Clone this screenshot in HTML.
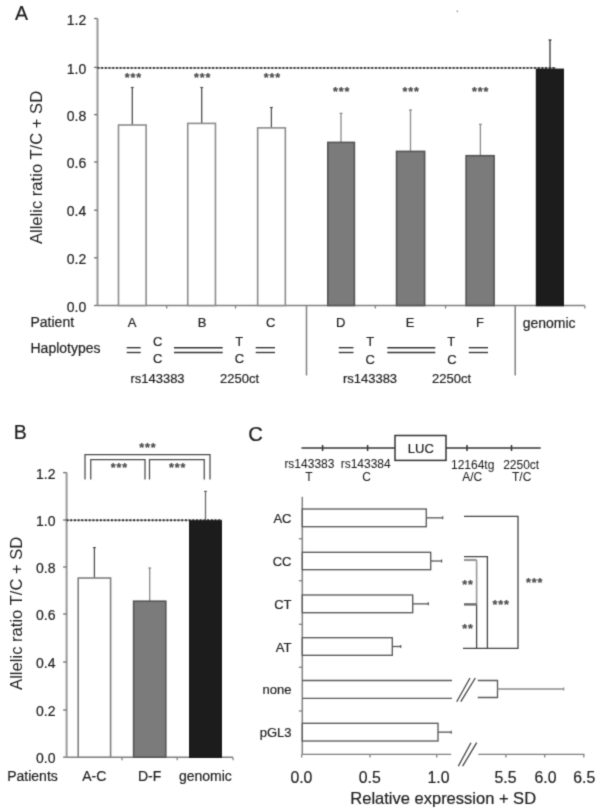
<!DOCTYPE html>
<html><head><meta charset="utf-8"><style>
html,body{margin:0;padding:0;background:#fff;}
body{width:600px;height:810px;overflow:hidden;}
svg{display:block;font-family:"Liberation Sans",sans-serif;}
</style></head><body>
<svg width="600" height="810" viewBox="0 0 600 810">
<g>
<rect width="600" height="810" fill="#fff"/>
<text x="15" y="19.6" font-size="19.5" text-anchor="start" fill="#1e1e1e" stroke="#1e1e1e" stroke-width="0.2" >A</text>
<line x1="97.5" y1="18.5" x2="97.5" y2="305.5" stroke="#9a9a9a" stroke-width="2.0" />
<line x1="94.0" y1="305.5" x2="97.5" y2="305.5" stroke="#707070" stroke-width="1.3" />
<text x="86.3" y="311.6" font-size="14" text-anchor="end" fill="#1e1e1e" stroke="#1e1e1e" stroke-width="0.2" >0.0</text>
<line x1="94.0" y1="257.8" x2="97.5" y2="257.8" stroke="#707070" stroke-width="1.3" />
<text x="86.3" y="263.90000000000003" font-size="14" text-anchor="end" fill="#1e1e1e" stroke="#1e1e1e" stroke-width="0.2" >0.2</text>
<line x1="94.0" y1="210.2" x2="97.5" y2="210.2" stroke="#707070" stroke-width="1.3" />
<text x="86.3" y="216.29999999999998" font-size="14" text-anchor="end" fill="#1e1e1e" stroke="#1e1e1e" stroke-width="0.2" >0.4</text>
<line x1="94.0" y1="162.0" x2="97.5" y2="162.0" stroke="#707070" stroke-width="1.3" />
<text x="86.3" y="168.1" font-size="14" text-anchor="end" fill="#1e1e1e" stroke="#1e1e1e" stroke-width="0.2" >0.6</text>
<line x1="94.0" y1="114.6" x2="97.5" y2="114.6" stroke="#707070" stroke-width="1.3" />
<text x="86.3" y="120.69999999999999" font-size="14" text-anchor="end" fill="#1e1e1e" stroke="#1e1e1e" stroke-width="0.2" >0.8</text>
<line x1="94.0" y1="67.4" x2="97.5" y2="67.4" stroke="#707070" stroke-width="1.3" />
<text x="86.3" y="73.5" font-size="14" text-anchor="end" fill="#1e1e1e" stroke="#1e1e1e" stroke-width="0.2" >1.0</text>
<line x1="94.0" y1="18.5" x2="97.5" y2="18.5" stroke="#707070" stroke-width="1.3" />
<text x="86.3" y="24.6" font-size="14" text-anchor="end" fill="#1e1e1e" stroke="#1e1e1e" stroke-width="0.2" >1.2</text>
<text x="0" y="0" font-size="16.6" text-anchor="middle" fill="#1e1e1e" transform="translate(42.3,167.5) rotate(-90)">Allelic ratio T/C + SD</text>
<line x1="97.5" y1="305.5" x2="584.8" y2="305.5" stroke="#808080" stroke-width="1.5" />
<line x1="166.7" y1="305.5" x2="166.7" y2="308.5" stroke="#808080" stroke-width="1.3" />
<line x1="235.5" y1="305.5" x2="235.5" y2="308.5" stroke="#808080" stroke-width="1.3" />
<line x1="306.5" y1="305.5" x2="306.5" y2="375.5" stroke="#808080" stroke-width="1.5" />
<line x1="375.3" y1="305.5" x2="375.3" y2="308.5" stroke="#808080" stroke-width="1.3" />
<line x1="445.5" y1="305.5" x2="445.5" y2="308.5" stroke="#808080" stroke-width="1.3" />
<line x1="515.2" y1="305.5" x2="515.2" y2="375.5" stroke="#808080" stroke-width="1.5" />
<line x1="584.8" y1="305.5" x2="584.8" y2="308.5" stroke="#808080" stroke-width="1.3" />
<line x1="97.5" y1="67.9" x2="556" y2="67.9" stroke="#aaa" stroke-width="1.5" />
<line x1="97.5" y1="67.9" x2="556" y2="67.9" stroke="#2a2a2a" stroke-width="1.9" stroke-dasharray="1.8 1.9"/>
<line x1="132.3" y1="87.5" x2="132.3" y2="125.0" stroke="#505050" stroke-width="1.3" />
<line x1="130.8" y1="87.5" x2="133.8" y2="87.5" stroke="#505050" stroke-width="1.2" />
<line x1="201.7" y1="87.5" x2="201.7" y2="123.4" stroke="#505050" stroke-width="1.3" />
<line x1="200.2" y1="87.5" x2="203.2" y2="87.5" stroke="#505050" stroke-width="1.2" />
<line x1="271.4" y1="107.5" x2="271.4" y2="127.9" stroke="#505050" stroke-width="1.3" />
<line x1="269.9" y1="107.5" x2="272.9" y2="107.5" stroke="#505050" stroke-width="1.2" />
<line x1="341.0" y1="113.3" x2="341.0" y2="142.4" stroke="#8a8a8a" stroke-width="1.3" />
<line x1="339.5" y1="113.3" x2="342.5" y2="113.3" stroke="#8a8a8a" stroke-width="1.2" />
<line x1="410.5" y1="110.0" x2="410.5" y2="151.4" stroke="#8a8a8a" stroke-width="1.3" />
<line x1="409.0" y1="110.0" x2="412.0" y2="110.0" stroke="#8a8a8a" stroke-width="1.2" />
<line x1="480.4" y1="124.3" x2="480.4" y2="155.7" stroke="#8a8a8a" stroke-width="1.3" />
<line x1="478.9" y1="124.3" x2="481.9" y2="124.3" stroke="#8a8a8a" stroke-width="1.2" />
<line x1="550.0" y1="40.0" x2="550.0" y2="69.4" stroke="#333" stroke-width="1.3" />
<line x1="548.5" y1="40.0" x2="551.5" y2="40.0" stroke="#333" stroke-width="1.2" />
<rect x="118.50000000000001" y="125.0" width="27.60000000000001" height="180.5" fill="#fff" stroke="#8c8c8c" stroke-width="1.6"/>
<rect x="187.75" y="123.4" width="27.69999999999999" height="182.1" fill="#fff" stroke="#8c8c8c" stroke-width="1.6"/>
<rect x="257.65" y="127.9" width="27.700000000000045" height="177.6" fill="#fff" stroke="#8c8c8c" stroke-width="1.6"/>
<rect x="327.8" y="142.4" width="26.600000000000023" height="163.1" fill="#7b7b7b" stroke="#555" stroke-width="1.6"/>
<rect x="396.55" y="151.4" width="28.100000000000023" height="154.1" fill="#7b7b7b" stroke="#555" stroke-width="1.6"/>
<rect x="466.1" y="155.7" width="28.0" height="149.8" fill="#7b7b7b" stroke="#555" stroke-width="1.6"/>
<rect x="536.6" y="69.4" width="26.59999999999991" height="236.1" fill="#1c1c1c" stroke="#1c1c1c" stroke-width="1.6"/>
<text x="133.3" y="81.8" font-size="12.5" text-anchor="middle" fill="#4a4a4a" stroke="#4a4a4a" stroke-width="0.2" font-weight="bold" letter-spacing="0.9">***</text>
<text x="202.6" y="81.8" font-size="12.5" text-anchor="middle" fill="#4a4a4a" stroke="#4a4a4a" stroke-width="0.2" font-weight="bold" letter-spacing="0.9">***</text>
<text x="272.5" y="81.8" font-size="12.5" text-anchor="middle" fill="#4a4a4a" stroke="#4a4a4a" stroke-width="0.2" font-weight="bold" letter-spacing="0.9">***</text>
<text x="341.6" y="95.6" font-size="12.5" text-anchor="middle" fill="#4a4a4a" stroke="#4a4a4a" stroke-width="0.2" font-weight="bold" letter-spacing="0.9">***</text>
<text x="411.1" y="95.6" font-size="12.5" text-anchor="middle" fill="#4a4a4a" stroke="#4a4a4a" stroke-width="0.2" font-weight="bold" letter-spacing="0.9">***</text>
<text x="480.6" y="95.6" font-size="12.5" text-anchor="middle" fill="#4a4a4a" stroke="#4a4a4a" stroke-width="0.2" font-weight="bold" letter-spacing="0.9">***</text>
<text x="30.5" y="327.3" font-size="14" text-anchor="start" fill="#1e1e1e" stroke="#1e1e1e" stroke-width="0.2" >Patient</text>
<text x="132.1" y="326.9" font-size="13" text-anchor="middle" fill="#1e1e1e" stroke="#1e1e1e" stroke-width="0.2" >A</text>
<text x="202.2" y="326.9" font-size="13" text-anchor="middle" fill="#1e1e1e" stroke="#1e1e1e" stroke-width="0.2" >B</text>
<text x="270.7" y="326.9" font-size="13" text-anchor="middle" fill="#1e1e1e" stroke="#1e1e1e" stroke-width="0.2" >C</text>
<text x="340.6" y="326.9" font-size="13" text-anchor="middle" fill="#1e1e1e" stroke="#1e1e1e" stroke-width="0.2" >D</text>
<text x="410.2" y="326.9" font-size="13" text-anchor="middle" fill="#1e1e1e" stroke="#1e1e1e" stroke-width="0.2" >E</text>
<text x="479.9" y="326.9" font-size="13" text-anchor="middle" fill="#1e1e1e" stroke="#1e1e1e" stroke-width="0.2" >F</text>
<text x="549.1" y="327.5" font-size="14" text-anchor="middle" fill="#1e1e1e" stroke="#1e1e1e" stroke-width="0.2" >genomic</text>
<text x="30.5" y="352.6" font-size="14" text-anchor="start" fill="#1e1e1e" stroke="#1e1e1e" stroke-width="0.2" >Haplotypes</text>
<line x1="126.7" y1="347.7" x2="140.7" y2="347.7" stroke="#333" stroke-width="1.35" />
<line x1="126.7" y1="352.5" x2="140.7" y2="352.5" stroke="#333" stroke-width="1.35" />
<line x1="174" y1="347.7" x2="222.7" y2="347.7" stroke="#333" stroke-width="1.35" />
<line x1="174" y1="352.5" x2="222.7" y2="352.5" stroke="#333" stroke-width="1.35" />
<line x1="255.7" y1="347.7" x2="275" y2="347.7" stroke="#333" stroke-width="1.35" />
<line x1="255.7" y1="352.5" x2="275" y2="352.5" stroke="#333" stroke-width="1.35" />
<line x1="338.8" y1="347.7" x2="353.5" y2="347.7" stroke="#333" stroke-width="1.35" />
<line x1="338.8" y1="352.5" x2="353.5" y2="352.5" stroke="#333" stroke-width="1.35" />
<line x1="387.3" y1="347.7" x2="435.3" y2="347.7" stroke="#333" stroke-width="1.35" />
<line x1="387.3" y1="352.5" x2="435.3" y2="352.5" stroke="#333" stroke-width="1.35" />
<line x1="468.8" y1="347.7" x2="488" y2="347.7" stroke="#333" stroke-width="1.35" />
<line x1="468.8" y1="352.5" x2="488" y2="352.5" stroke="#333" stroke-width="1.35" />
<text x="157.8" y="346" font-size="13" text-anchor="middle" fill="#1e1e1e" stroke="#1e1e1e" stroke-width="0.2" >C</text>
<text x="157.8" y="363.4" font-size="13" text-anchor="middle" fill="#1e1e1e" stroke="#1e1e1e" stroke-width="0.2" >C</text>
<text x="239.3" y="346" font-size="13" text-anchor="middle" fill="#1e1e1e" stroke="#1e1e1e" stroke-width="0.2" >T</text>
<text x="239.5" y="363.4" font-size="13" text-anchor="middle" fill="#1e1e1e" stroke="#1e1e1e" stroke-width="0.2" >C</text>
<text x="370.2" y="345.8" font-size="13" text-anchor="middle" fill="#1e1e1e" stroke="#1e1e1e" stroke-width="0.2" >T</text>
<text x="370.2" y="363.6" font-size="13" text-anchor="middle" fill="#1e1e1e" stroke="#1e1e1e" stroke-width="0.2" >C</text>
<text x="451.3" y="345.8" font-size="13" text-anchor="middle" fill="#1e1e1e" stroke="#1e1e1e" stroke-width="0.2" >T</text>
<text x="452" y="363.6" font-size="13" text-anchor="middle" fill="#1e1e1e" stroke="#1e1e1e" stroke-width="0.2" >C</text>
<text x="157.5" y="382.7" font-size="13" text-anchor="middle" fill="#1e1e1e" stroke="#1e1e1e" stroke-width="0.2" >rs143383</text>
<text x="239.5" y="382.7" font-size="13" text-anchor="middle" fill="#1e1e1e" stroke="#1e1e1e" stroke-width="0.2" >2250ct</text>
<text x="370" y="383.3" font-size="13" text-anchor="middle" fill="#1e1e1e" stroke="#1e1e1e" stroke-width="0.2" >rs143383</text>
<text x="451.5" y="383.3" font-size="13" text-anchor="middle" fill="#1e1e1e" stroke="#1e1e1e" stroke-width="0.2" >2250ct</text>
<text x="13.8" y="438.8" font-size="19.5" text-anchor="start" fill="#1e1e1e" stroke="#1e1e1e" stroke-width="0.2" >B</text>
<line x1="66.6" y1="472.6" x2="66.6" y2="757.2" stroke="#9a9a9a" stroke-width="2.0" />
<line x1="63.099999999999994" y1="757.2" x2="66.6" y2="757.2" stroke="#707070" stroke-width="1.3" />
<text x="55.5" y="763.3000000000001" font-size="14" text-anchor="end" fill="#1e1e1e" stroke="#1e1e1e" stroke-width="0.2" >0.0</text>
<line x1="63.099999999999994" y1="710.0" x2="66.6" y2="710.0" stroke="#707070" stroke-width="1.3" />
<text x="55.5" y="716.1" font-size="14" text-anchor="end" fill="#1e1e1e" stroke="#1e1e1e" stroke-width="0.2" >0.2</text>
<line x1="63.099999999999994" y1="662.0" x2="66.6" y2="662.0" stroke="#707070" stroke-width="1.3" />
<text x="55.5" y="668.1" font-size="14" text-anchor="end" fill="#1e1e1e" stroke="#1e1e1e" stroke-width="0.2" >0.4</text>
<line x1="63.099999999999994" y1="614.0" x2="66.6" y2="614.0" stroke="#707070" stroke-width="1.3" />
<text x="55.5" y="620.1" font-size="14" text-anchor="end" fill="#1e1e1e" stroke="#1e1e1e" stroke-width="0.2" >0.6</text>
<line x1="63.099999999999994" y1="567.0" x2="66.6" y2="567.0" stroke="#707070" stroke-width="1.3" />
<text x="55.5" y="573.1" font-size="14" text-anchor="end" fill="#1e1e1e" stroke="#1e1e1e" stroke-width="0.2" >0.8</text>
<line x1="63.099999999999994" y1="520.0" x2="66.6" y2="520.0" stroke="#707070" stroke-width="1.3" />
<text x="55.5" y="526.1" font-size="14" text-anchor="end" fill="#1e1e1e" stroke="#1e1e1e" stroke-width="0.2" >1.0</text>
<line x1="63.099999999999994" y1="472.6" x2="66.6" y2="472.6" stroke="#707070" stroke-width="1.3" />
<text x="55.5" y="478.70000000000005" font-size="14" text-anchor="end" fill="#1e1e1e" stroke="#1e1e1e" stroke-width="0.2" >1.2</text>
<text x="0" y="0" font-size="16.6" text-anchor="middle" fill="#1e1e1e" transform="translate(21.5,613.3) rotate(-90)">Allelic ratio T/C + SD</text>
<line x1="66.6" y1="757.2" x2="233" y2="757.2" stroke="#808080" stroke-width="1.5" />
<line x1="122" y1="757.2" x2="122" y2="760.2" stroke="#808080" stroke-width="1.3" />
<line x1="177.2" y1="757.2" x2="177.2" y2="760.2" stroke="#808080" stroke-width="1.3" />
<line x1="233" y1="757.2" x2="233" y2="760.2" stroke="#808080" stroke-width="1.3" />
<line x1="66.6" y1="520.2" x2="222" y2="520.2" stroke="#aaa" stroke-width="1.5" />
<line x1="66.6" y1="520.2" x2="222" y2="520.2" stroke="#2a2a2a" stroke-width="1.9" stroke-dasharray="1.8 1.9"/>
<line x1="94.4" y1="547.6" x2="94.4" y2="578" stroke="#505050" stroke-width="1.3" />
<line x1="92.9" y1="547.6" x2="95.9" y2="547.6" stroke="#505050" stroke-width="1.2" />
<rect x="78.2" y="578" width="32.39999999999999" height="179.20000000000005" fill="#fff" stroke="#808080" stroke-width="1.6"/>
<line x1="149.7" y1="568" x2="149.7" y2="601.2" stroke="#8a8a8a" stroke-width="1.3" />
<line x1="148.2" y1="568" x2="151.2" y2="568" stroke="#8a8a8a" stroke-width="1.2" />
<rect x="133.6" y="601.2" width="32.20000000000002" height="156.0" fill="#7b7b7b" stroke="#555" stroke-width="1.6"/>
<line x1="205.5" y1="491.4" x2="205.5" y2="521" stroke="#6a6a6a" stroke-width="1.3" />
<line x1="204.0" y1="491.4" x2="207.0" y2="491.4" stroke="#6a6a6a" stroke-width="1.2" />
<rect x="189.8" y="521" width="31.399999999999977" height="236.20000000000005" fill="#1c1c1c" stroke="#1c1c1c" stroke-width="1.6"/>
<path d="M85 479.5 V454.5 H210 V479.5" stroke="#4a4a4a" stroke-width="1.25" fill="none" />
<path d="M90.75 479.5 V459.5 H145 V479.5" stroke="#4a4a4a" stroke-width="1.25" fill="none" />
<path d="M149.5 479.5 V459.5 H204.25 V479.5" stroke="#4a4a4a" stroke-width="1.25" fill="none" />
<text x="147.8" y="451.5" font-size="12.5" text-anchor="middle" fill="#4a4a4a" stroke="#4a4a4a" stroke-width="0.2" font-weight="bold" letter-spacing="0.9">***</text>
<text x="119.4" y="472.3" font-size="12.5" text-anchor="middle" fill="#4a4a4a" stroke="#4a4a4a" stroke-width="0.2" font-weight="bold" letter-spacing="0.9">***</text>
<text x="177.6" y="472.3" font-size="12.5" text-anchor="middle" fill="#4a4a4a" stroke="#4a4a4a" stroke-width="0.2" font-weight="bold" letter-spacing="0.9">***</text>
<text x="7.2" y="781" font-size="14" text-anchor="start" fill="#1e1e1e" stroke="#1e1e1e" stroke-width="0.2" >Patients</text>
<text x="94.3" y="781" font-size="14" text-anchor="middle" fill="#1e1e1e" stroke="#1e1e1e" stroke-width="0.2" >A-C</text>
<text x="149.6" y="781" font-size="14" text-anchor="middle" fill="#1e1e1e" stroke="#1e1e1e" stroke-width="0.2" >D-F</text>
<text x="205.4" y="781" font-size="14" text-anchor="middle" fill="#1e1e1e" stroke="#1e1e1e" stroke-width="0.2" >genomic</text>
<text x="248.2" y="441" font-size="20.3" text-anchor="start" fill="#1e1e1e" stroke="#1e1e1e" stroke-width="0.2" >C</text>
<line x1="301.5" y1="448.1" x2="395" y2="448.1" stroke="#333" stroke-width="1.5" />
<line x1="446" y1="448.1" x2="540.7" y2="448.1" stroke="#333" stroke-width="1.5" />
<rect x="395" y="435.5" width="51" height="24.899999999999977" fill="#fff" stroke="#333" stroke-width="1.5"/>
<text x="420.8" y="452.6" font-size="13" text-anchor="middle" fill="#1e1e1e" stroke="#1e1e1e" stroke-width="0.2" >LUC</text>
<line x1="322.6" y1="445" x2="322.6" y2="451" stroke="#333" stroke-width="1.5" />
<line x1="367.6" y1="445" x2="367.6" y2="451" stroke="#333" stroke-width="1.5" />
<line x1="467" y1="445" x2="467" y2="451" stroke="#333" stroke-width="1.5" />
<line x1="511.5" y1="445" x2="511.5" y2="451" stroke="#333" stroke-width="1.5" />
<text x="309.4" y="467.7" font-size="12" text-anchor="middle" fill="#1e1e1e" stroke="#1e1e1e" stroke-width="0.05" >rs143383</text>
<text x="309" y="480.6" font-size="12" text-anchor="middle" fill="#1e1e1e" stroke="#1e1e1e" stroke-width="0.05" >T</text>
<text x="365.7" y="467.7" font-size="12" text-anchor="middle" fill="#1e1e1e" stroke="#1e1e1e" stroke-width="0.05" >rs143384</text>
<text x="366.6" y="480.6" font-size="12" text-anchor="middle" fill="#1e1e1e" stroke="#1e1e1e" stroke-width="0.05" >C</text>
<text x="472.7" y="468.5" font-size="12" text-anchor="middle" fill="#1e1e1e" stroke="#1e1e1e" stroke-width="0.05" >12164tg</text>
<text x="472.3" y="480.5" font-size="12" text-anchor="middle" fill="#1e1e1e" stroke="#1e1e1e" stroke-width="0.05" >A/C</text>
<text x="521.2" y="468.5" font-size="12" text-anchor="middle" fill="#1e1e1e" stroke="#1e1e1e" stroke-width="0.05" >2250ct</text>
<text x="521.7" y="480.5" font-size="12" text-anchor="middle" fill="#1e1e1e" stroke="#1e1e1e" stroke-width="0.05" >T/C</text>
<line x1="302.3" y1="496.7" x2="302.3" y2="754.3" stroke="#808080" stroke-width="1.5" />
<line x1="298.8" y1="538.7" x2="302.3" y2="538.7" stroke="#808080" stroke-width="1.3" />
<line x1="298.8" y1="580.7" x2="302.3" y2="580.7" stroke="#808080" stroke-width="1.3" />
<line x1="298.8" y1="624.3" x2="302.3" y2="624.3" stroke="#808080" stroke-width="1.3" />
<line x1="298.8" y1="667.3" x2="302.3" y2="667.3" stroke="#808080" stroke-width="1.3" />
<line x1="298.8" y1="711" x2="302.3" y2="711" stroke="#808080" stroke-width="1.3" />
<line x1="302.3" y1="754.3" x2="451.2" y2="754.3" stroke="#808080" stroke-width="1.3" />
<line x1="478.2" y1="754.3" x2="584.4" y2="754.3" stroke="#808080" stroke-width="1.3" />
<line x1="301.7" y1="754.3" x2="301.7" y2="757.5" stroke="#808080" stroke-width="1.3" />
<line x1="370" y1="754.3" x2="370" y2="757.5" stroke="#808080" stroke-width="1.3" />
<line x1="436.7" y1="754.3" x2="436.7" y2="757.5" stroke="#808080" stroke-width="1.3" />
<line x1="505.9" y1="754.3" x2="505.9" y2="757.5" stroke="#808080" stroke-width="1.3" />
<line x1="544.7" y1="754.3" x2="544.7" y2="757.5" stroke="#808080" stroke-width="1.3" />
<line x1="583.8" y1="754.3" x2="583.8" y2="757.5" stroke="#808080" stroke-width="1.3" />
<line x1="426.3" y1="517.85" x2="442.7" y2="517.85" stroke="#555" stroke-width="1.3" />
<line x1="442.7" y1="516.35" x2="442.7" y2="519.35" stroke="#555" stroke-width="1.2" />
<rect x="302.3" y="509" width="124.0" height="17.700000000000045" fill="#fff" stroke="#5a5a5a" stroke-width="1.35"/>
<text x="291.5" y="522.85" font-size="13" text-anchor="end" fill="#1e1e1e" stroke="#1e1e1e" stroke-width="0.2" >AC</text>
<line x1="430.7" y1="561.0" x2="441.6" y2="561.0" stroke="#555" stroke-width="1.3" />
<line x1="441.6" y1="559.5" x2="441.6" y2="562.5" stroke="#555" stroke-width="1.2" />
<rect x="302.3" y="552.3" width="128.39999999999998" height="17.40000000000009" fill="#fff" stroke="#5a5a5a" stroke-width="1.35"/>
<text x="291.5" y="566.0" font-size="13" text-anchor="end" fill="#1e1e1e" stroke="#1e1e1e" stroke-width="0.2" >CC</text>
<line x1="412.7" y1="603.85" x2="428.3" y2="603.85" stroke="#555" stroke-width="1.3" />
<line x1="428.3" y1="602.35" x2="428.3" y2="605.35" stroke="#555" stroke-width="1.2" />
<rect x="302.3" y="595" width="110.39999999999998" height="17.700000000000045" fill="#fff" stroke="#5a5a5a" stroke-width="1.35"/>
<text x="291.5" y="608.85" font-size="13" text-anchor="end" fill="#1e1e1e" stroke="#1e1e1e" stroke-width="0.2" >CT</text>
<line x1="392.3" y1="646.5" x2="400.7" y2="646.5" stroke="#555" stroke-width="1.3" />
<line x1="400.7" y1="645.0" x2="400.7" y2="648.0" stroke="#555" stroke-width="1.2" />
<rect x="302.3" y="637.7" width="90.0" height="17.59999999999991" fill="#fff" stroke="#5a5a5a" stroke-width="1.35"/>
<text x="291.5" y="651.5" font-size="13" text-anchor="end" fill="#1e1e1e" stroke="#1e1e1e" stroke-width="0.2" >AT</text>
<line x1="438" y1="732.15" x2="451.2" y2="732.15" stroke="#555" stroke-width="1.3" />
<line x1="451.2" y1="730.65" x2="451.2" y2="733.65" stroke="#555" stroke-width="1.2" />
<rect x="302.3" y="723.3" width="135.7" height="17.700000000000045" fill="#fff" stroke="#5a5a5a" stroke-width="1.35"/>
<text x="291.5" y="737.15" font-size="13" text-anchor="end" fill="#1e1e1e" stroke="#1e1e1e" stroke-width="0.2" >pGL3</text>
<path d="M302.3 680.5 H452 M302.3 698.3 H452" stroke="#5a5a5a" stroke-width="1.35" fill="none" />
<path d="M477.8 680.5 H497.5 V697.5 H477.8" stroke="#5a5a5a" stroke-width="1.35" fill="none" />
<line x1="497.5" y1="689" x2="563.7" y2="689" stroke="#8a8a8a" stroke-width="1.5" />
<line x1="563.7" y1="687.5" x2="563.7" y2="690.5" stroke="#8a8a8a" stroke-width="1.2" />
<text x="291.5" y="694.4" font-size="13" text-anchor="end" fill="#1e1e1e" stroke="#1e1e1e" stroke-width="0.2" >none</text>
<path d="M456.7 701.7 L470 678 M460.8 701.7 L475.3 678" stroke="#444" stroke-width="1.3" fill="none" />
<path d="M458.3 766.2 L471 742.7 M462.6 766.2 L476.7 742.7" stroke="#444" stroke-width="1.3" fill="none" />
<text x="301.4" y="782.8" font-size="15.8" text-anchor="middle" fill="#1e1e1e" stroke="#1e1e1e" stroke-width="0.2" >0.0</text>
<text x="369.75" y="782.8" font-size="15.8" text-anchor="middle" fill="#1e1e1e" stroke="#1e1e1e" stroke-width="0.2" >0.5</text>
<text x="438.5" y="782.8" font-size="15.8" text-anchor="middle" fill="#1e1e1e" stroke="#1e1e1e" stroke-width="0.2" >1.0</text>
<text x="505.5" y="782.8" font-size="15.8" text-anchor="middle" fill="#1e1e1e" stroke="#1e1e1e" stroke-width="0.2" >5.5</text>
<text x="545.5" y="782.8" font-size="15.8" text-anchor="middle" fill="#1e1e1e" stroke="#1e1e1e" stroke-width="0.2" >6.0</text>
<text x="584.3" y="782.8" font-size="15.8" text-anchor="middle" fill="#1e1e1e" stroke="#1e1e1e" stroke-width="0.2" >6.5</text>
<text x="443.2" y="803.8" font-size="16.5" text-anchor="middle" fill="#1e1e1e" stroke="#1e1e1e" stroke-width="0.2" >Relative expression + SD</text>
<path d="M464 516.4 H518 V648.4 H463" stroke="#444" stroke-width="1.3" fill="none" />
<path d="M464 556.6 H487.4 V648.4" stroke="#444" stroke-width="1.3" fill="none" />
<line x1="464" y1="560" x2="476.6" y2="560" stroke="#999" stroke-width="2.2" />
<line x1="476.6" y1="560" x2="476.6" y2="604.4" stroke="#999" stroke-width="1.6" />
<line x1="476.6" y1="604.4" x2="476.6" y2="648.4" stroke="#444" stroke-width="1.3" />
<line x1="464" y1="604.4" x2="476.6" y2="604.4" stroke="#6a6a6a" stroke-width="2.4" />
<text x="534.6" y="587.4" font-size="12.5" text-anchor="middle" fill="#4a4a4a" stroke="#4a4a4a" stroke-width="0.2" font-weight="bold" letter-spacing="0.9">***</text>
<text x="501.2" y="609.2" font-size="12.5" text-anchor="middle" fill="#4a4a4a" stroke="#4a4a4a" stroke-width="0.2" font-weight="bold" letter-spacing="0.9">***</text>
<text x="467.9" y="589.2" font-size="12.5" text-anchor="middle" fill="#4a4a4a" stroke="#4a4a4a" stroke-width="0.2" font-weight="bold" letter-spacing="0.9">**</text>
<text x="467.9" y="633.2" font-size="12.5" text-anchor="middle" fill="#4a4a4a" stroke="#4a4a4a" stroke-width="0.2" font-weight="bold" letter-spacing="0.9">**</text>
<circle cx="457.3" cy="11.3" r="0.8" fill="#777"/>
</g>
<defs><filter id="soft" x="0" y="0" width="600" height="810" filterUnits="userSpaceOnUse" color-interpolation-filters="sRGB"><feConvolveMatrix order="3" kernelMatrix="9 42 9 42 196 42 9 42 9" divisor="400" edgeMode="duplicate"/></filter></defs>
<g filter="url(#soft)">
<rect width="600" height="810" fill="#fff"/>
<text x="15" y="19.6" font-size="19.5" text-anchor="start" fill="#1e1e1e" stroke="#1e1e1e" stroke-width="0.2" >A</text>
<line x1="97.5" y1="18.5" x2="97.5" y2="305.5" stroke="#9a9a9a" stroke-width="2.0" />
<line x1="94.0" y1="305.5" x2="97.5" y2="305.5" stroke="#707070" stroke-width="1.3" />
<text x="86.3" y="311.6" font-size="14" text-anchor="end" fill="#1e1e1e" stroke="#1e1e1e" stroke-width="0.2" >0.0</text>
<line x1="94.0" y1="257.8" x2="97.5" y2="257.8" stroke="#707070" stroke-width="1.3" />
<text x="86.3" y="263.90000000000003" font-size="14" text-anchor="end" fill="#1e1e1e" stroke="#1e1e1e" stroke-width="0.2" >0.2</text>
<line x1="94.0" y1="210.2" x2="97.5" y2="210.2" stroke="#707070" stroke-width="1.3" />
<text x="86.3" y="216.29999999999998" font-size="14" text-anchor="end" fill="#1e1e1e" stroke="#1e1e1e" stroke-width="0.2" >0.4</text>
<line x1="94.0" y1="162.0" x2="97.5" y2="162.0" stroke="#707070" stroke-width="1.3" />
<text x="86.3" y="168.1" font-size="14" text-anchor="end" fill="#1e1e1e" stroke="#1e1e1e" stroke-width="0.2" >0.6</text>
<line x1="94.0" y1="114.6" x2="97.5" y2="114.6" stroke="#707070" stroke-width="1.3" />
<text x="86.3" y="120.69999999999999" font-size="14" text-anchor="end" fill="#1e1e1e" stroke="#1e1e1e" stroke-width="0.2" >0.8</text>
<line x1="94.0" y1="67.4" x2="97.5" y2="67.4" stroke="#707070" stroke-width="1.3" />
<text x="86.3" y="73.5" font-size="14" text-anchor="end" fill="#1e1e1e" stroke="#1e1e1e" stroke-width="0.2" >1.0</text>
<line x1="94.0" y1="18.5" x2="97.5" y2="18.5" stroke="#707070" stroke-width="1.3" />
<text x="86.3" y="24.6" font-size="14" text-anchor="end" fill="#1e1e1e" stroke="#1e1e1e" stroke-width="0.2" >1.2</text>
<text x="0" y="0" font-size="16.6" text-anchor="middle" fill="#1e1e1e" transform="translate(42.3,167.5) rotate(-90)">Allelic ratio T/C + SD</text>
<line x1="97.5" y1="305.5" x2="584.8" y2="305.5" stroke="#808080" stroke-width="1.5" />
<line x1="166.7" y1="305.5" x2="166.7" y2="308.5" stroke="#808080" stroke-width="1.3" />
<line x1="235.5" y1="305.5" x2="235.5" y2="308.5" stroke="#808080" stroke-width="1.3" />
<line x1="306.5" y1="305.5" x2="306.5" y2="375.5" stroke="#808080" stroke-width="1.5" />
<line x1="375.3" y1="305.5" x2="375.3" y2="308.5" stroke="#808080" stroke-width="1.3" />
<line x1="445.5" y1="305.5" x2="445.5" y2="308.5" stroke="#808080" stroke-width="1.3" />
<line x1="515.2" y1="305.5" x2="515.2" y2="375.5" stroke="#808080" stroke-width="1.5" />
<line x1="584.8" y1="305.5" x2="584.8" y2="308.5" stroke="#808080" stroke-width="1.3" />
<line x1="97.5" y1="67.9" x2="556" y2="67.9" stroke="#aaa" stroke-width="1.5" />
<line x1="97.5" y1="67.9" x2="556" y2="67.9" stroke="#2a2a2a" stroke-width="1.9" stroke-dasharray="1.8 1.9"/>
<line x1="132.3" y1="87.5" x2="132.3" y2="125.0" stroke="#505050" stroke-width="1.3" />
<line x1="130.8" y1="87.5" x2="133.8" y2="87.5" stroke="#505050" stroke-width="1.2" />
<line x1="201.7" y1="87.5" x2="201.7" y2="123.4" stroke="#505050" stroke-width="1.3" />
<line x1="200.2" y1="87.5" x2="203.2" y2="87.5" stroke="#505050" stroke-width="1.2" />
<line x1="271.4" y1="107.5" x2="271.4" y2="127.9" stroke="#505050" stroke-width="1.3" />
<line x1="269.9" y1="107.5" x2="272.9" y2="107.5" stroke="#505050" stroke-width="1.2" />
<line x1="341.0" y1="113.3" x2="341.0" y2="142.4" stroke="#8a8a8a" stroke-width="1.3" />
<line x1="339.5" y1="113.3" x2="342.5" y2="113.3" stroke="#8a8a8a" stroke-width="1.2" />
<line x1="410.5" y1="110.0" x2="410.5" y2="151.4" stroke="#8a8a8a" stroke-width="1.3" />
<line x1="409.0" y1="110.0" x2="412.0" y2="110.0" stroke="#8a8a8a" stroke-width="1.2" />
<line x1="480.4" y1="124.3" x2="480.4" y2="155.7" stroke="#8a8a8a" stroke-width="1.3" />
<line x1="478.9" y1="124.3" x2="481.9" y2="124.3" stroke="#8a8a8a" stroke-width="1.2" />
<line x1="550.0" y1="40.0" x2="550.0" y2="69.4" stroke="#333" stroke-width="1.3" />
<line x1="548.5" y1="40.0" x2="551.5" y2="40.0" stroke="#333" stroke-width="1.2" />
<rect x="118.50000000000001" y="125.0" width="27.60000000000001" height="180.5" fill="#fff" stroke="#8c8c8c" stroke-width="1.6"/>
<rect x="187.75" y="123.4" width="27.69999999999999" height="182.1" fill="#fff" stroke="#8c8c8c" stroke-width="1.6"/>
<rect x="257.65" y="127.9" width="27.700000000000045" height="177.6" fill="#fff" stroke="#8c8c8c" stroke-width="1.6"/>
<rect x="327.8" y="142.4" width="26.600000000000023" height="163.1" fill="#7b7b7b" stroke="#555" stroke-width="1.6"/>
<rect x="396.55" y="151.4" width="28.100000000000023" height="154.1" fill="#7b7b7b" stroke="#555" stroke-width="1.6"/>
<rect x="466.1" y="155.7" width="28.0" height="149.8" fill="#7b7b7b" stroke="#555" stroke-width="1.6"/>
<rect x="536.6" y="69.4" width="26.59999999999991" height="236.1" fill="#1c1c1c" stroke="#1c1c1c" stroke-width="1.6"/>
<text x="133.3" y="81.8" font-size="12.5" text-anchor="middle" fill="#4a4a4a" stroke="#4a4a4a" stroke-width="0.2" font-weight="bold" letter-spacing="0.9">***</text>
<text x="202.6" y="81.8" font-size="12.5" text-anchor="middle" fill="#4a4a4a" stroke="#4a4a4a" stroke-width="0.2" font-weight="bold" letter-spacing="0.9">***</text>
<text x="272.5" y="81.8" font-size="12.5" text-anchor="middle" fill="#4a4a4a" stroke="#4a4a4a" stroke-width="0.2" font-weight="bold" letter-spacing="0.9">***</text>
<text x="341.6" y="95.6" font-size="12.5" text-anchor="middle" fill="#4a4a4a" stroke="#4a4a4a" stroke-width="0.2" font-weight="bold" letter-spacing="0.9">***</text>
<text x="411.1" y="95.6" font-size="12.5" text-anchor="middle" fill="#4a4a4a" stroke="#4a4a4a" stroke-width="0.2" font-weight="bold" letter-spacing="0.9">***</text>
<text x="480.6" y="95.6" font-size="12.5" text-anchor="middle" fill="#4a4a4a" stroke="#4a4a4a" stroke-width="0.2" font-weight="bold" letter-spacing="0.9">***</text>
<text x="30.5" y="327.3" font-size="14" text-anchor="start" fill="#1e1e1e" stroke="#1e1e1e" stroke-width="0.2" >Patient</text>
<text x="132.1" y="326.9" font-size="13" text-anchor="middle" fill="#1e1e1e" stroke="#1e1e1e" stroke-width="0.2" >A</text>
<text x="202.2" y="326.9" font-size="13" text-anchor="middle" fill="#1e1e1e" stroke="#1e1e1e" stroke-width="0.2" >B</text>
<text x="270.7" y="326.9" font-size="13" text-anchor="middle" fill="#1e1e1e" stroke="#1e1e1e" stroke-width="0.2" >C</text>
<text x="340.6" y="326.9" font-size="13" text-anchor="middle" fill="#1e1e1e" stroke="#1e1e1e" stroke-width="0.2" >D</text>
<text x="410.2" y="326.9" font-size="13" text-anchor="middle" fill="#1e1e1e" stroke="#1e1e1e" stroke-width="0.2" >E</text>
<text x="479.9" y="326.9" font-size="13" text-anchor="middle" fill="#1e1e1e" stroke="#1e1e1e" stroke-width="0.2" >F</text>
<text x="549.1" y="327.5" font-size="14" text-anchor="middle" fill="#1e1e1e" stroke="#1e1e1e" stroke-width="0.2" >genomic</text>
<text x="30.5" y="352.6" font-size="14" text-anchor="start" fill="#1e1e1e" stroke="#1e1e1e" stroke-width="0.2" >Haplotypes</text>
<line x1="126.7" y1="347.7" x2="140.7" y2="347.7" stroke="#333" stroke-width="1.35" />
<line x1="126.7" y1="352.5" x2="140.7" y2="352.5" stroke="#333" stroke-width="1.35" />
<line x1="174" y1="347.7" x2="222.7" y2="347.7" stroke="#333" stroke-width="1.35" />
<line x1="174" y1="352.5" x2="222.7" y2="352.5" stroke="#333" stroke-width="1.35" />
<line x1="255.7" y1="347.7" x2="275" y2="347.7" stroke="#333" stroke-width="1.35" />
<line x1="255.7" y1="352.5" x2="275" y2="352.5" stroke="#333" stroke-width="1.35" />
<line x1="338.8" y1="347.7" x2="353.5" y2="347.7" stroke="#333" stroke-width="1.35" />
<line x1="338.8" y1="352.5" x2="353.5" y2="352.5" stroke="#333" stroke-width="1.35" />
<line x1="387.3" y1="347.7" x2="435.3" y2="347.7" stroke="#333" stroke-width="1.35" />
<line x1="387.3" y1="352.5" x2="435.3" y2="352.5" stroke="#333" stroke-width="1.35" />
<line x1="468.8" y1="347.7" x2="488" y2="347.7" stroke="#333" stroke-width="1.35" />
<line x1="468.8" y1="352.5" x2="488" y2="352.5" stroke="#333" stroke-width="1.35" />
<text x="157.8" y="346" font-size="13" text-anchor="middle" fill="#1e1e1e" stroke="#1e1e1e" stroke-width="0.2" >C</text>
<text x="157.8" y="363.4" font-size="13" text-anchor="middle" fill="#1e1e1e" stroke="#1e1e1e" stroke-width="0.2" >C</text>
<text x="239.3" y="346" font-size="13" text-anchor="middle" fill="#1e1e1e" stroke="#1e1e1e" stroke-width="0.2" >T</text>
<text x="239.5" y="363.4" font-size="13" text-anchor="middle" fill="#1e1e1e" stroke="#1e1e1e" stroke-width="0.2" >C</text>
<text x="370.2" y="345.8" font-size="13" text-anchor="middle" fill="#1e1e1e" stroke="#1e1e1e" stroke-width="0.2" >T</text>
<text x="370.2" y="363.6" font-size="13" text-anchor="middle" fill="#1e1e1e" stroke="#1e1e1e" stroke-width="0.2" >C</text>
<text x="451.3" y="345.8" font-size="13" text-anchor="middle" fill="#1e1e1e" stroke="#1e1e1e" stroke-width="0.2" >T</text>
<text x="452" y="363.6" font-size="13" text-anchor="middle" fill="#1e1e1e" stroke="#1e1e1e" stroke-width="0.2" >C</text>
<text x="157.5" y="382.7" font-size="13" text-anchor="middle" fill="#1e1e1e" stroke="#1e1e1e" stroke-width="0.2" >rs143383</text>
<text x="239.5" y="382.7" font-size="13" text-anchor="middle" fill="#1e1e1e" stroke="#1e1e1e" stroke-width="0.2" >2250ct</text>
<text x="370" y="383.3" font-size="13" text-anchor="middle" fill="#1e1e1e" stroke="#1e1e1e" stroke-width="0.2" >rs143383</text>
<text x="451.5" y="383.3" font-size="13" text-anchor="middle" fill="#1e1e1e" stroke="#1e1e1e" stroke-width="0.2" >2250ct</text>
<text x="13.8" y="438.8" font-size="19.5" text-anchor="start" fill="#1e1e1e" stroke="#1e1e1e" stroke-width="0.2" >B</text>
<line x1="66.6" y1="472.6" x2="66.6" y2="757.2" stroke="#9a9a9a" stroke-width="2.0" />
<line x1="63.099999999999994" y1="757.2" x2="66.6" y2="757.2" stroke="#707070" stroke-width="1.3" />
<text x="55.5" y="763.3000000000001" font-size="14" text-anchor="end" fill="#1e1e1e" stroke="#1e1e1e" stroke-width="0.2" >0.0</text>
<line x1="63.099999999999994" y1="710.0" x2="66.6" y2="710.0" stroke="#707070" stroke-width="1.3" />
<text x="55.5" y="716.1" font-size="14" text-anchor="end" fill="#1e1e1e" stroke="#1e1e1e" stroke-width="0.2" >0.2</text>
<line x1="63.099999999999994" y1="662.0" x2="66.6" y2="662.0" stroke="#707070" stroke-width="1.3" />
<text x="55.5" y="668.1" font-size="14" text-anchor="end" fill="#1e1e1e" stroke="#1e1e1e" stroke-width="0.2" >0.4</text>
<line x1="63.099999999999994" y1="614.0" x2="66.6" y2="614.0" stroke="#707070" stroke-width="1.3" />
<text x="55.5" y="620.1" font-size="14" text-anchor="end" fill="#1e1e1e" stroke="#1e1e1e" stroke-width="0.2" >0.6</text>
<line x1="63.099999999999994" y1="567.0" x2="66.6" y2="567.0" stroke="#707070" stroke-width="1.3" />
<text x="55.5" y="573.1" font-size="14" text-anchor="end" fill="#1e1e1e" stroke="#1e1e1e" stroke-width="0.2" >0.8</text>
<line x1="63.099999999999994" y1="520.0" x2="66.6" y2="520.0" stroke="#707070" stroke-width="1.3" />
<text x="55.5" y="526.1" font-size="14" text-anchor="end" fill="#1e1e1e" stroke="#1e1e1e" stroke-width="0.2" >1.0</text>
<line x1="63.099999999999994" y1="472.6" x2="66.6" y2="472.6" stroke="#707070" stroke-width="1.3" />
<text x="55.5" y="478.70000000000005" font-size="14" text-anchor="end" fill="#1e1e1e" stroke="#1e1e1e" stroke-width="0.2" >1.2</text>
<text x="0" y="0" font-size="16.6" text-anchor="middle" fill="#1e1e1e" transform="translate(21.5,613.3) rotate(-90)">Allelic ratio T/C + SD</text>
<line x1="66.6" y1="757.2" x2="233" y2="757.2" stroke="#808080" stroke-width="1.5" />
<line x1="122" y1="757.2" x2="122" y2="760.2" stroke="#808080" stroke-width="1.3" />
<line x1="177.2" y1="757.2" x2="177.2" y2="760.2" stroke="#808080" stroke-width="1.3" />
<line x1="233" y1="757.2" x2="233" y2="760.2" stroke="#808080" stroke-width="1.3" />
<line x1="66.6" y1="520.2" x2="222" y2="520.2" stroke="#aaa" stroke-width="1.5" />
<line x1="66.6" y1="520.2" x2="222" y2="520.2" stroke="#2a2a2a" stroke-width="1.9" stroke-dasharray="1.8 1.9"/>
<line x1="94.4" y1="547.6" x2="94.4" y2="578" stroke="#505050" stroke-width="1.3" />
<line x1="92.9" y1="547.6" x2="95.9" y2="547.6" stroke="#505050" stroke-width="1.2" />
<rect x="78.2" y="578" width="32.39999999999999" height="179.20000000000005" fill="#fff" stroke="#808080" stroke-width="1.6"/>
<line x1="149.7" y1="568" x2="149.7" y2="601.2" stroke="#8a8a8a" stroke-width="1.3" />
<line x1="148.2" y1="568" x2="151.2" y2="568" stroke="#8a8a8a" stroke-width="1.2" />
<rect x="133.6" y="601.2" width="32.20000000000002" height="156.0" fill="#7b7b7b" stroke="#555" stroke-width="1.6"/>
<line x1="205.5" y1="491.4" x2="205.5" y2="521" stroke="#6a6a6a" stroke-width="1.3" />
<line x1="204.0" y1="491.4" x2="207.0" y2="491.4" stroke="#6a6a6a" stroke-width="1.2" />
<rect x="189.8" y="521" width="31.399999999999977" height="236.20000000000005" fill="#1c1c1c" stroke="#1c1c1c" stroke-width="1.6"/>
<path d="M85 479.5 V454.5 H210 V479.5" stroke="#4a4a4a" stroke-width="1.25" fill="none" />
<path d="M90.75 479.5 V459.5 H145 V479.5" stroke="#4a4a4a" stroke-width="1.25" fill="none" />
<path d="M149.5 479.5 V459.5 H204.25 V479.5" stroke="#4a4a4a" stroke-width="1.25" fill="none" />
<text x="147.8" y="451.5" font-size="12.5" text-anchor="middle" fill="#4a4a4a" stroke="#4a4a4a" stroke-width="0.2" font-weight="bold" letter-spacing="0.9">***</text>
<text x="119.4" y="472.3" font-size="12.5" text-anchor="middle" fill="#4a4a4a" stroke="#4a4a4a" stroke-width="0.2" font-weight="bold" letter-spacing="0.9">***</text>
<text x="177.6" y="472.3" font-size="12.5" text-anchor="middle" fill="#4a4a4a" stroke="#4a4a4a" stroke-width="0.2" font-weight="bold" letter-spacing="0.9">***</text>
<text x="7.2" y="781" font-size="14" text-anchor="start" fill="#1e1e1e" stroke="#1e1e1e" stroke-width="0.2" >Patients</text>
<text x="94.3" y="781" font-size="14" text-anchor="middle" fill="#1e1e1e" stroke="#1e1e1e" stroke-width="0.2" >A-C</text>
<text x="149.6" y="781" font-size="14" text-anchor="middle" fill="#1e1e1e" stroke="#1e1e1e" stroke-width="0.2" >D-F</text>
<text x="205.4" y="781" font-size="14" text-anchor="middle" fill="#1e1e1e" stroke="#1e1e1e" stroke-width="0.2" >genomic</text>
<text x="248.2" y="441" font-size="20.3" text-anchor="start" fill="#1e1e1e" stroke="#1e1e1e" stroke-width="0.2" >C</text>
<line x1="301.5" y1="448.1" x2="395" y2="448.1" stroke="#333" stroke-width="1.5" />
<line x1="446" y1="448.1" x2="540.7" y2="448.1" stroke="#333" stroke-width="1.5" />
<rect x="395" y="435.5" width="51" height="24.899999999999977" fill="#fff" stroke="#333" stroke-width="1.5"/>
<text x="420.8" y="452.6" font-size="13" text-anchor="middle" fill="#1e1e1e" stroke="#1e1e1e" stroke-width="0.2" >LUC</text>
<line x1="322.6" y1="445" x2="322.6" y2="451" stroke="#333" stroke-width="1.5" />
<line x1="367.6" y1="445" x2="367.6" y2="451" stroke="#333" stroke-width="1.5" />
<line x1="467" y1="445" x2="467" y2="451" stroke="#333" stroke-width="1.5" />
<line x1="511.5" y1="445" x2="511.5" y2="451" stroke="#333" stroke-width="1.5" />
<text x="309.4" y="467.7" font-size="12" text-anchor="middle" fill="#1e1e1e" stroke="#1e1e1e" stroke-width="0.05" >rs143383</text>
<text x="309" y="480.6" font-size="12" text-anchor="middle" fill="#1e1e1e" stroke="#1e1e1e" stroke-width="0.05" >T</text>
<text x="365.7" y="467.7" font-size="12" text-anchor="middle" fill="#1e1e1e" stroke="#1e1e1e" stroke-width="0.05" >rs143384</text>
<text x="366.6" y="480.6" font-size="12" text-anchor="middle" fill="#1e1e1e" stroke="#1e1e1e" stroke-width="0.05" >C</text>
<text x="472.7" y="468.5" font-size="12" text-anchor="middle" fill="#1e1e1e" stroke="#1e1e1e" stroke-width="0.05" >12164tg</text>
<text x="472.3" y="480.5" font-size="12" text-anchor="middle" fill="#1e1e1e" stroke="#1e1e1e" stroke-width="0.05" >A/C</text>
<text x="521.2" y="468.5" font-size="12" text-anchor="middle" fill="#1e1e1e" stroke="#1e1e1e" stroke-width="0.05" >2250ct</text>
<text x="521.7" y="480.5" font-size="12" text-anchor="middle" fill="#1e1e1e" stroke="#1e1e1e" stroke-width="0.05" >T/C</text>
<line x1="302.3" y1="496.7" x2="302.3" y2="754.3" stroke="#808080" stroke-width="1.5" />
<line x1="298.8" y1="538.7" x2="302.3" y2="538.7" stroke="#808080" stroke-width="1.3" />
<line x1="298.8" y1="580.7" x2="302.3" y2="580.7" stroke="#808080" stroke-width="1.3" />
<line x1="298.8" y1="624.3" x2="302.3" y2="624.3" stroke="#808080" stroke-width="1.3" />
<line x1="298.8" y1="667.3" x2="302.3" y2="667.3" stroke="#808080" stroke-width="1.3" />
<line x1="298.8" y1="711" x2="302.3" y2="711" stroke="#808080" stroke-width="1.3" />
<line x1="302.3" y1="754.3" x2="451.2" y2="754.3" stroke="#808080" stroke-width="1.3" />
<line x1="478.2" y1="754.3" x2="584.4" y2="754.3" stroke="#808080" stroke-width="1.3" />
<line x1="301.7" y1="754.3" x2="301.7" y2="757.5" stroke="#808080" stroke-width="1.3" />
<line x1="370" y1="754.3" x2="370" y2="757.5" stroke="#808080" stroke-width="1.3" />
<line x1="436.7" y1="754.3" x2="436.7" y2="757.5" stroke="#808080" stroke-width="1.3" />
<line x1="505.9" y1="754.3" x2="505.9" y2="757.5" stroke="#808080" stroke-width="1.3" />
<line x1="544.7" y1="754.3" x2="544.7" y2="757.5" stroke="#808080" stroke-width="1.3" />
<line x1="583.8" y1="754.3" x2="583.8" y2="757.5" stroke="#808080" stroke-width="1.3" />
<line x1="426.3" y1="517.85" x2="442.7" y2="517.85" stroke="#555" stroke-width="1.3" />
<line x1="442.7" y1="516.35" x2="442.7" y2="519.35" stroke="#555" stroke-width="1.2" />
<rect x="302.3" y="509" width="124.0" height="17.700000000000045" fill="#fff" stroke="#5a5a5a" stroke-width="1.35"/>
<text x="291.5" y="522.85" font-size="13" text-anchor="end" fill="#1e1e1e" stroke="#1e1e1e" stroke-width="0.2" >AC</text>
<line x1="430.7" y1="561.0" x2="441.6" y2="561.0" stroke="#555" stroke-width="1.3" />
<line x1="441.6" y1="559.5" x2="441.6" y2="562.5" stroke="#555" stroke-width="1.2" />
<rect x="302.3" y="552.3" width="128.39999999999998" height="17.40000000000009" fill="#fff" stroke="#5a5a5a" stroke-width="1.35"/>
<text x="291.5" y="566.0" font-size="13" text-anchor="end" fill="#1e1e1e" stroke="#1e1e1e" stroke-width="0.2" >CC</text>
<line x1="412.7" y1="603.85" x2="428.3" y2="603.85" stroke="#555" stroke-width="1.3" />
<line x1="428.3" y1="602.35" x2="428.3" y2="605.35" stroke="#555" stroke-width="1.2" />
<rect x="302.3" y="595" width="110.39999999999998" height="17.700000000000045" fill="#fff" stroke="#5a5a5a" stroke-width="1.35"/>
<text x="291.5" y="608.85" font-size="13" text-anchor="end" fill="#1e1e1e" stroke="#1e1e1e" stroke-width="0.2" >CT</text>
<line x1="392.3" y1="646.5" x2="400.7" y2="646.5" stroke="#555" stroke-width="1.3" />
<line x1="400.7" y1="645.0" x2="400.7" y2="648.0" stroke="#555" stroke-width="1.2" />
<rect x="302.3" y="637.7" width="90.0" height="17.59999999999991" fill="#fff" stroke="#5a5a5a" stroke-width="1.35"/>
<text x="291.5" y="651.5" font-size="13" text-anchor="end" fill="#1e1e1e" stroke="#1e1e1e" stroke-width="0.2" >AT</text>
<line x1="438" y1="732.15" x2="451.2" y2="732.15" stroke="#555" stroke-width="1.3" />
<line x1="451.2" y1="730.65" x2="451.2" y2="733.65" stroke="#555" stroke-width="1.2" />
<rect x="302.3" y="723.3" width="135.7" height="17.700000000000045" fill="#fff" stroke="#5a5a5a" stroke-width="1.35"/>
<text x="291.5" y="737.15" font-size="13" text-anchor="end" fill="#1e1e1e" stroke="#1e1e1e" stroke-width="0.2" >pGL3</text>
<path d="M302.3 680.5 H452 M302.3 698.3 H452" stroke="#5a5a5a" stroke-width="1.35" fill="none" />
<path d="M477.8 680.5 H497.5 V697.5 H477.8" stroke="#5a5a5a" stroke-width="1.35" fill="none" />
<line x1="497.5" y1="689" x2="563.7" y2="689" stroke="#8a8a8a" stroke-width="1.5" />
<line x1="563.7" y1="687.5" x2="563.7" y2="690.5" stroke="#8a8a8a" stroke-width="1.2" />
<text x="291.5" y="694.4" font-size="13" text-anchor="end" fill="#1e1e1e" stroke="#1e1e1e" stroke-width="0.2" >none</text>
<path d="M456.7 701.7 L470 678 M460.8 701.7 L475.3 678" stroke="#444" stroke-width="1.3" fill="none" />
<path d="M458.3 766.2 L471 742.7 M462.6 766.2 L476.7 742.7" stroke="#444" stroke-width="1.3" fill="none" />
<text x="301.4" y="782.8" font-size="15.8" text-anchor="middle" fill="#1e1e1e" stroke="#1e1e1e" stroke-width="0.2" >0.0</text>
<text x="369.75" y="782.8" font-size="15.8" text-anchor="middle" fill="#1e1e1e" stroke="#1e1e1e" stroke-width="0.2" >0.5</text>
<text x="438.5" y="782.8" font-size="15.8" text-anchor="middle" fill="#1e1e1e" stroke="#1e1e1e" stroke-width="0.2" >1.0</text>
<text x="505.5" y="782.8" font-size="15.8" text-anchor="middle" fill="#1e1e1e" stroke="#1e1e1e" stroke-width="0.2" >5.5</text>
<text x="545.5" y="782.8" font-size="15.8" text-anchor="middle" fill="#1e1e1e" stroke="#1e1e1e" stroke-width="0.2" >6.0</text>
<text x="584.3" y="782.8" font-size="15.8" text-anchor="middle" fill="#1e1e1e" stroke="#1e1e1e" stroke-width="0.2" >6.5</text>
<text x="443.2" y="803.8" font-size="16.5" text-anchor="middle" fill="#1e1e1e" stroke="#1e1e1e" stroke-width="0.2" >Relative expression + SD</text>
<path d="M464 516.4 H518 V648.4 H463" stroke="#444" stroke-width="1.3" fill="none" />
<path d="M464 556.6 H487.4 V648.4" stroke="#444" stroke-width="1.3" fill="none" />
<line x1="464" y1="560" x2="476.6" y2="560" stroke="#999" stroke-width="2.2" />
<line x1="476.6" y1="560" x2="476.6" y2="604.4" stroke="#999" stroke-width="1.6" />
<line x1="476.6" y1="604.4" x2="476.6" y2="648.4" stroke="#444" stroke-width="1.3" />
<line x1="464" y1="604.4" x2="476.6" y2="604.4" stroke="#6a6a6a" stroke-width="2.4" />
<text x="534.6" y="587.4" font-size="12.5" text-anchor="middle" fill="#4a4a4a" stroke="#4a4a4a" stroke-width="0.2" font-weight="bold" letter-spacing="0.9">***</text>
<text x="501.2" y="609.2" font-size="12.5" text-anchor="middle" fill="#4a4a4a" stroke="#4a4a4a" stroke-width="0.2" font-weight="bold" letter-spacing="0.9">***</text>
<text x="467.9" y="589.2" font-size="12.5" text-anchor="middle" fill="#4a4a4a" stroke="#4a4a4a" stroke-width="0.2" font-weight="bold" letter-spacing="0.9">**</text>
<text x="467.9" y="633.2" font-size="12.5" text-anchor="middle" fill="#4a4a4a" stroke="#4a4a4a" stroke-width="0.2" font-weight="bold" letter-spacing="0.9">**</text>
<circle cx="457.3" cy="11.3" r="0.8" fill="#777"/>
</g>
</svg>
</body></html>
